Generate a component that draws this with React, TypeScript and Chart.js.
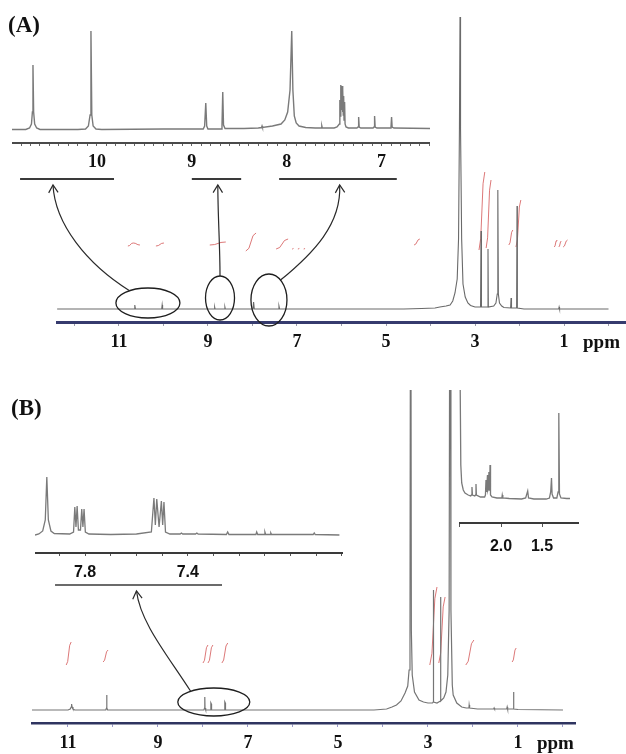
import React, { useEffect, useRef } from 'react';
import { Chart, registerables } from 'chart.js';
Chart.register(...registerables);

const SERIF = "'Liberation Serif', 'Times New Roman', serif";
const SANS = "'Liberation Sans', Arial, sans-serif";

// ---------- Panel A : main spectrum [ppm, intensity] ----------
const specA: [number, number][] = [
  [12.39, 0], [10.66, 0], [10.645, 4], [10.63, 0], [10.04, 0], [10.03, 4], [10.02, 0],
  [8.86, 0], [8.85, 2], [8.84, 0], [8.63, 0], [8.62, 2], [8.61, 0],
  [7.99, 0], [7.975, 7], [7.96, 0], [7.42, 0], [7.405, 3], [7.39, 0],
  [4.6, 0], [4.2, 0.5], [3.9, 1], [3.79, 2], [3.65, 3], [3.56, 4], [3.5, 8], [3.45, 16], [3.4, 30],
  [3.37, 70], [3.35, 180], [3.337, 292], [3.325, 180], [3.3, 70], [3.27, 25], [3.22, 12], [3.16, 6],
  [3.1, 3.5], [3.0, 2], [2.875, 2], [2.865, 78], [2.855, 2], [2.72, 2], [2.708, 60], [2.7, 2],
  [2.58, 3], [2.53, 6], [2.5, 15], [2.487, 119], [2.475, 15], [2.45, 6], [2.4, 3], [2.35, 1.5],
  [2.2, 1], [2.19, 11], [2.18, 1], [2.065, 1], [2.056, 103], [2.048, 1], [1.9, 0],
  [1.12, 0], [1.11, 2], [1.1, 0], [0, 0],
];
// integral traces [startPpm, endPpm, low, high]
const integralsA: [number, number, number, number][] = [
  [10.8, 10.68, 63, 66], [10.68, 10.53, 66, 64], [10.17, 9.99, 63, 66], [8.96, 8.6, 64, 67],
  [8.15, 7.92, 58, 76], [7.47, 7.2, 60, 70], [7.11, 7.08, 60, 60.6], [6.98, 6.95, 60, 60.6],
  [6.85, 6.82, 60, 60.6], [4.37, 4.24, 64, 70], [2.91, 2.78, 59, 137], [2.75, 2.64, 61, 129],
  [2.24, 2.15, 64, 79], [2.08, 1.97, 62, 109], [1.22, 1.16, 62, 69], [1.12, 1.06, 62, 68], [1.02, 0.92, 62, 69],
];
const tickLabelsA = [11, 9, 7, 5, 3, 1];

// ---------- Panel A : inset (aromatic region) ----------
const insetA: [number, number][] = [
  [10.895, 0.5], [10.75, 0.5], [10.71, 2], [10.69, 6], [10.68, 18], [10.674, 65], [10.667, 18],
  [10.656, 6], [10.635, 2], [10.6, 0.5], [10.2, 0.5], [10.12, 1], [10.09, 4], [10.072, 15],
  [10.063, 99], [10.054, 15], [10.04, 4], [10.01, 1], [9.95, 0.5], [9.3, 1], [8.88, 1],
  [8.865, 4], [8.853, 27], [8.843, 4], [8.83, 1], [8.69, 1], [8.682, 5], [8.674, 38], [8.666, 5],
  [8.65, 1.5], [8.45, 1.5], [8.3, 2], [8.265, 2.5], [8.26, 4], [8.255, 2.5], [8.15, 4], [8.06, 6],
  [8.02, 10], [7.99, 18], [7.965, 40], [7.947, 99], [7.935, 40], [7.92, 14], [7.9, 7], [7.87, 4],
  [7.8, 2.5], [7.7, 2], [7.635, 2], [7.63, 4], [7.625, 2], [7.5, 2], [7.47, 3], [7.445, 6],
  [7.44, 30], [7.436, 14], [7.432, 45], [7.428, 18], [7.424, 42], [7.42, 20], [7.416, 44],
  [7.412, 18], [7.408, 40], [7.404, 15], [7.4, 34], [7.396, 10], [7.39, 28], [7.385, 6],
  [7.375, 3], [7.35, 2], [7.26, 2], [7.248, 3], [7.242, 13], [7.236, 3], [7.22, 2], [7.09, 2],
  [7.08, 3], [7.074, 14], [7.068, 3], [7.05, 2], [6.91, 2], [6.901, 3], [6.895, 13], [6.889, 3],
  [6.87, 2], [6.49, 1.5],
];
const tickLabelsInsetA = [10, 9, 8, 7];

// ---------- Panel B : main spectrum ----------
const specB: [number, number][] = [
  [11.8, 0], [11.0, 0], [10.95, 1], [10.93, 3], [10.92, 6], [10.91, 3], [10.89, 1], [10.85, 0],
  [10.16, 0], [10.145, 2], [10.14, 15], [10.135, 2], [10.12, 0],
  [7.98, 0], [7.965, 2], [7.96, 13], [7.955, 2], [7.94, 0],
  [7.83, 0], [7.825, 7], [7.815, 6], [7.81, 0], [7.52, 0], [7.515, 8], [7.505, 7], [7.5, 0],
  [4.2, 0], [3.92, 1], [3.8, 3], [3.7, 5], [3.6, 9], [3.51, 17], [3.45, 24], [3.42, 40], [3.4, 80],
  [3.385, 600], [3.37, 80], [3.35, 35], [3.3, 18], [3.2, 10], [3.1, 8], [3.0, 7], [2.9, 7],
  [2.885, 8], [2.88, 120], [2.875, 8], [2.8, 7], [2.725, 9], [2.72, 113], [2.715, 9],
  [2.65, 12], [2.6, 18], [2.56, 35], [2.53, 100], [2.51, 600], [2.49, 100], [2.46, 25], [2.44, 15],
  [2.36, 7], [2.25, 3], [2.15, 2], [2.09, 2], [2.085, 5], [2.08, 3], [2.075, 4], [2.07, 2],
  [1.9, 1], [1.54, 1], [1.53, 2], [1.52, 1], [1.25, 1], [1.24, 3], [1.23, 1],
  [1.11, 1], [1.1, 18], [1.09, 1], [1.0, 0.5], [0, 0],
];
const integralsB: [number, number, number, number][] = [
  [11.04, 10.93, 45, 68], [10.22, 10.11, 48, 60], [8.0, 7.89, 47, 65], [7.89, 7.78, 47, 65],
  [7.58, 7.45, 47, 67], [2.96, 2.8, 45, 123], [2.76, 2.62, 47, 113], [2.16, 1.98, 45, 70],
  [1.13, 1.04, 48, 62],
];
const tickLabelsB = [11, 9, 7, 5, 3, 1];

// ---------- Panel B : left inset (8.0 - 6.8 ppm) ----------
const insetBL: [number, number][] = [
  [7.995, 0], [7.98, 1], [7.965, 4], [7.955, 15], [7.949, 58], [7.943, 15], [7.933, 4], [7.92, 1.5],
  [7.86, 1], [7.845, 3], [7.84, 28], [7.8355, 8], [7.831, 29], [7.826, 5], [7.818, 5], [7.813, 26],
  [7.8085, 8], [7.804, 26], [7.799, 3], [7.785, 1], [7.7, 0.5], [7.6, 1], [7.542, 3], [7.532, 37],
  [7.5265, 10], [7.521, 36], [7.512, 8], [7.503, 34], [7.498, 10], [7.493, 33], [7.487, 3],
  [7.47, 1], [7.43, 1], [7.425, 2], [7.42, 1], [7.37, 1], [7.365, 2], [7.36, 1], [7.25, 0.5],
  [7.245, 3], [7.24, 0.5], [7.135, 0.5], [7.132, 3], [7.128, 0.5], [7.103, 0.5], [7.1, 3],
  [7.097, 0.5], [7.08, 0.5], [7.077, 2], [7.074, 0.5], [6.912, 0.5], [6.908, 2], [6.904, 0.5],
  [6.81, 0],
];
const tickLabelsInsetBL = [7.8, 7.4];

// ---------- Panel B : right inset (aliphatic region) ----------
const insetBR: [number, number][] = [
  [2.512, 300], [2.5, 140], [2.49, 35], [2.479, 17], [2.46, 10], [2.439, 7], [2.4, 5], [2.37, 4],
  [2.36, 5], [2.354, 13], [2.348, 5], [2.32, 4], [2.31, 5], [2.305, 16], [2.3, 5], [2.25, 3],
  [2.2, 3], [2.19, 5], [2.183, 20], [2.178, 8], [2.172, 10], [2.165, 25], [2.16, 10], [2.154, 12],
  [2.148, 28], [2.143, 10], [2.138, 12], [2.134, 35], [2.128, 5], [2.11, 3], [2.05, 2], [1.99, 2],
  [1.985, 5], [1.978, 2], [1.9, 1.5], [1.75, 1], [1.7, 2], [1.675, 9], [1.665, 2], [1.6, 1],
  [1.45, 1], [1.41, 2], [1.395, 8], [1.385, 22], [1.378, 6], [1.36, 2], [1.32, 2], [1.305, 8],
  [1.296, 87], [1.288, 6], [1.27, 2], [1.2, 1.5], [1.16, 1.5],
];
const tickLabelsInsetBR = [2.0, 1.5];

// ---------- annotations ----------
// ellipses [centre ppm, dy above baseline px, rx, ry]
const ellipsesA: [number, number, number, number][] = [[10.35, -6, 32, 15], [8.73, -11, 14.5, 22], [7.63, -9, 18, 26]];
const ellipsesB: [number, number, number, number][] = [[7.76, -8, 36, 14]];
// brackets under inset axes [from ppm, to ppm] (inset scale)
const bracketsA: [number, number][] = [[10.81, 9.82], [9.0, 8.48], [8.08, 6.84]];
const bracketsB: [number, number][] = [[7.917, 7.267]];
// arrows: ellipse index, angle on ellipse (deg), tip ppm on inset scale, control offsets
const arrowsA = [
  { e: 0, ang: -125, tip: 10.463, c1: [-43, -27], c2: [2, 39] },
  { e: 1, ang: -90, tip: 8.726, c1: [0, -30], c2: [0, 30] },
  { e: 2, ang: -50, tip: 7.442, c1: [33, -27], c2: [2, 39] },
];
const arrowsB = [{ e: 0, ang: -130, tip: 7.6, c1: [-23, -36], c2: [4, 32] }];

// left/top = canvas position on the page; padL = space left of the plot area
type Box = { left: number; top: number; padL: number; w: number; h: number; axisH: number; padR: number };
const BOX: Record<string, Box> = {
  mainA: { left: 0, top: 10, padL: 57, w: 569, h: 312, axisH: 40, padR: 0 },
  insetA: { left: 12, top: 20, padL: 0, w: 418, h: 123, axisH: 30, padR: 0 },
  mainB: { left: 0, top: 390, padL: 32, w: 543, h: 333, axisH: 31, padR: 12 },
  insetBL: { left: 35, top: 470, padL: 0, w: 308, h: 83, axisH: 30, padR: 0 },
  insetBR: { left: 459, top: 390, padL: 0, w: 120, h: 133, axisH: 30, padR: 0 },
};

const pts = (p: [number, number][]) => p.map(([x, y]) => ({ x, y }));
const intPts = (a: [number, number, number, number][]) =>
  a.flatMap(([s, e, lo, hi]) => [
    { x: s, y: lo },
    { x: s + (e - s) * 0.3, y: lo + (hi - lo) * 0.15 },
    { x: s + (e - s) * 0.7, y: lo + (hi - lo) * 0.85 },
    { x: e, y: hi },
    { x: e, y: null },
  ]);
const has = (list: number[], v: number) => list.some((l) => Math.abs(l - v) < 1e-6);

interface Cfg {
  box: Box; xmin: number; xmax: number; ymin: number; ymax: number;
  datasets: any[]; step: number; labels: number[]; fmt: (v: number) => string;
  font: any; tickLen: number; pad: number; borderColor: string; borderWidth: number;
  tickColor: string; plugins?: any[];
}

function makeChart(canvas: HTMLCanvasElement, c: Cfg) {
  return new Chart(canvas, {
    type: 'line',
    data: { datasets: c.datasets },
    plugins: c.plugins || [],
    options: {
      animation: false,
      responsive: false,
      events: [],
      layout: { padding: { left: c.box.padL, right: c.box.padR, top: 0, bottom: 0 } },
      plugins: { legend: { display: false }, tooltip: { enabled: false } },
      elements: { point: { radius: 0 }, line: { tension: 0 } },
      scales: {
        x: {
          type: 'linear', reverse: true, min: c.xmin, max: c.xmax,
          afterFit: (s: any) => { s.height = c.box.axisH; s.paddingLeft = 0; s.paddingRight = 0; },
          border: { display: true, color: c.borderColor, width: c.borderWidth },
          grid: { display: true, drawOnChartArea: false, drawTicks: true, tickLength: c.tickLen, color: c.tickColor, lineWidth: 1 },
          ticks: {
            stepSize: c.step, autoSkip: false, includeBounds: false, maxRotation: 0, minRotation: 0,
            padding: c.pad, color: '#111', font: c.font,
            callback: (v: any) => (has(c.labels, Number(v)) ? c.fmt(Number(v)) : ''),
          },
        },
        y: { display: false, min: c.ymin, max: c.ymax },
      },
    } as any,
  });
}

function drawArrow(ctx: CanvasRenderingContext2D, sx: number, sy: number, c1x: number, c1y: number, c2x: number, c2y: number, tx: number, ty: number) {
  ctx.beginPath();
  ctx.moveTo(sx, sy);
  ctx.bezierCurveTo(c1x, c1y, c2x, c2y, tx, ty);
  ctx.stroke();
  const a = Math.atan2(ty - c2y, tx - c2x);
  const L = 9, W = 0.55;
  ctx.beginPath();
  ctx.moveTo(tx - L * Math.cos(a - W), ty - L * Math.sin(a - W));
  ctx.lineTo(tx, ty);
  ctx.lineTo(tx - L * Math.cos(a + W), ty - L * Math.sin(a + W));
  ctx.stroke();
}

function annotPlugin(id: string, ellipses: any[], arrows: any[], brackets: [number, number][], getInset: () => Chart | null, inBox: Box, mainBox: Box, brOff: number, brWidth: number) {
  return {
    id,
    afterDraw(chart: any) {
      const ctx: CanvasRenderingContext2D = chart.ctx;
      const xs = chart.scales.x, ys = chart.scales.y;
      const base = ys.getPixelForValue(0);
      ctx.save();
      ctx.strokeStyle = '#1e1e1e';
      ctx.lineWidth = 1.3;
      const centres = ellipses.map(([p, dy, rx, ry]) => {
        const cx = xs.getPixelForValue(p), cy = base + dy;
        ctx.beginPath();
        ctx.ellipse(cx, cy, rx, ry, 0, 0, Math.PI * 2);
        ctx.stroke();
        return { cx, cy, rx, ry };
      });
      const inset = getInset();
      if (inset) {
        const dx = inBox.left - mainBox.left, dy = inBox.top - mainBox.top;
        const by = (inset as any).chartArea.bottom + brOff + dy;
        const ix = (inset as any).scales.x;
        ctx.strokeStyle = '#3a3a3a';
        ctx.lineWidth = brWidth;
        brackets.forEach(([a, b]) => {
          ctx.beginPath();
          ctx.moveTo(ix.getPixelForValue(a) + dx, by);
          ctx.lineTo(ix.getPixelForValue(b) + dx, by);
          ctx.stroke();
        });
        ctx.strokeStyle = '#2a2a2a';
        ctx.lineWidth = 1.2;
        arrows.forEach((ar) => {
          const e = centres[ar.e];
          const t = (ar.ang * Math.PI) / 180;
          const sx = e.cx + e.rx * Math.cos(t), sy = e.cy + e.ry * Math.sin(t);
          const tx = ix.getPixelForValue(ar.tip) + dx, ty = by + 6;
          drawArrow(ctx, sx, sy, sx + ar.c1[0], sy + ar.c1[1], tx + ar.c2[0], ty + ar.c2[1], tx, ty);
        });
      }
      ctx.fillStyle = '#111';
      ctx.font = `bold 19px ${SERIF}`;
      ctx.textAlign = 'left';
      ctx.textBaseline = 'alphabetic';
      ctx.fillText('ppm', xs.getPixelForValue(1) + 19, chart.chartArea.bottom + 26);
      ctx.restore();
    },
  };
}

const spectrumDs = (data: any[], color: string, width: number) => ({
  data, borderColor: color, borderWidth: width, pointRadius: 0, fill: false, spanGaps: false,
});
const integralDs = (data: any[]) => ({
  data, borderColor: 'rgba(214,96,96,0.85)', borderWidth: 1, pointRadius: 0, fill: false, spanGaps: false,
});

export default function App() {
  const rMainA = useRef<HTMLCanvasElement>(null);
  const rInsetA = useRef<HTMLCanvasElement>(null);
  const rMainB = useRef<HTMLCanvasElement>(null);
  const rInsetBL = useRef<HTMLCanvasElement>(null);
  const rInsetBR = useRef<HTMLCanvasElement>(null);

  useEffect(() => {
    const charts: Chart[] = [];
    const serifFont = { family: SERIF, size: 18, weight: 'bold' };
    const sansFont = { family: SANS, size: 16, weight: 'bold' };

    const cInsetA = makeChart(rInsetA.current!, {
      box: BOX.insetA, xmin: 6.49, xmax: 10.895, ymin: -13, ymax: 110,
      datasets: [spectrumDs(pts(insetA), '#7a7a7a', 1.4)], step: 0.1, labels: tickLabelsInsetA,
      fmt: (v) => String(v), font: serifFont, tickLen: 3, pad: 6, borderColor: '#4a4a4a', borderWidth: 2, tickColor: '#666',
    });
    charts.push(cInsetA);

    charts.push(makeChart(rMainA.current!, {
      box: BOX.mainA, xmin: -0.393, xmax: 12.393, ymin: -13, ymax: 299,
      datasets: [spectrumDs(pts(specA), '#6a6a6a', 1.1), integralDs(intPts(integralsA))],
      step: 1, labels: tickLabelsA, fmt: (v) => String(v), font: serifFont, tickLen: 4, pad: 6,
      borderColor: '#363b6e', borderWidth: 3, tickColor: '#9a9aaa',
      plugins: [annotPlugin('annA', ellipsesA, arrowsA, bracketsA, () => cInsetA, BOX.insetA, BOX.mainA, 36, 2)],
    }));

    const cInsetBL = makeChart(rInsetBL.current!, {
      box: BOX.insetBL, xmin: 6.796, xmax: 7.995, ymin: -18, ymax: 65,
      datasets: [spectrumDs(pts(insetBL), '#7a7a7a', 1.3)], step: 0.1, labels: tickLabelsInsetBL,
      fmt: (v) => v.toFixed(1), font: sansFont, tickLen: 3, pad: 7, borderColor: '#3a3a3a', borderWidth: 2, tickColor: '#555',
    });
    charts.push(cInsetBL);

    charts.push(makeChart(rInsetBR.current!, {
      box: BOX.insetBR, xmin: 1.05, xmax: 2.512, ymin: -23, ymax: 110,
      datasets: [spectrumDs(pts(insetBR), '#7a7a7a', 1.3)], step: 0.5, labels: tickLabelsInsetBR,
      fmt: (v) => v.toFixed(1), font: sansFont, tickLen: 4, pad: 10, borderColor: '#3a3a3a', borderWidth: 2, tickColor: '#555',
    }));

    charts.push(makeChart(rMainB.current!, {
      box: BOX.mainB, xmin: -0.267, xmax: 11.8, ymin: -13, ymax: 320,
      datasets: [spectrumDs(pts(specB), '#757575', 1.2), integralDs(intPts(integralsB))],
      step: 1, labels: tickLabelsB, fmt: (v) => String(v), font: serifFont, tickLen: 4, pad: 6,
      borderColor: '#2f3460', borderWidth: 2.5, tickColor: '#9a9aca',
      plugins: [annotPlugin('annB', ellipsesB, arrowsB, bracketsB, () => cInsetBL, BOX.insetBL, BOX.mainB, 32, 1.6)],
    }));

    return () => charts.forEach((c) => c.destroy());
  }, []);

  const cv = (b: Box) => {
    const W = b.padL + b.w + b.padR, H = b.h + b.axisH;
    return {
      width: W,
      height: H,
      style: { position: 'absolute' as const, left: b.left, top: b.top, width: W, height: H, display: 'block' },
    };
  };

  return (
    <div style={{ position: 'absolute', left: 0, top: 0, width: 626, height: 754, overflow: 'hidden', background: '#fff' }}>
      <canvas ref={rMainA} {...cv(BOX.mainA)} />
      <canvas ref={rMainB} {...cv(BOX.mainB)} />
      <canvas ref={rInsetA} {...cv(BOX.insetA)} />
      <canvas ref={rInsetBL} {...cv(BOX.insetBL)} />
      <canvas ref={rInsetBR} {...cv(BOX.insetBR)} />
      <div style={{ position: 'absolute', left: 8, top: 12, font: `bold 23px ${SERIF}`, color: '#111' }}>(A)</div>
      <div style={{ position: 'absolute', left: 11, top: 395, font: `bold 23px ${SERIF}`, color: '#111' }}>(B)</div>
    </div>
  );
}
